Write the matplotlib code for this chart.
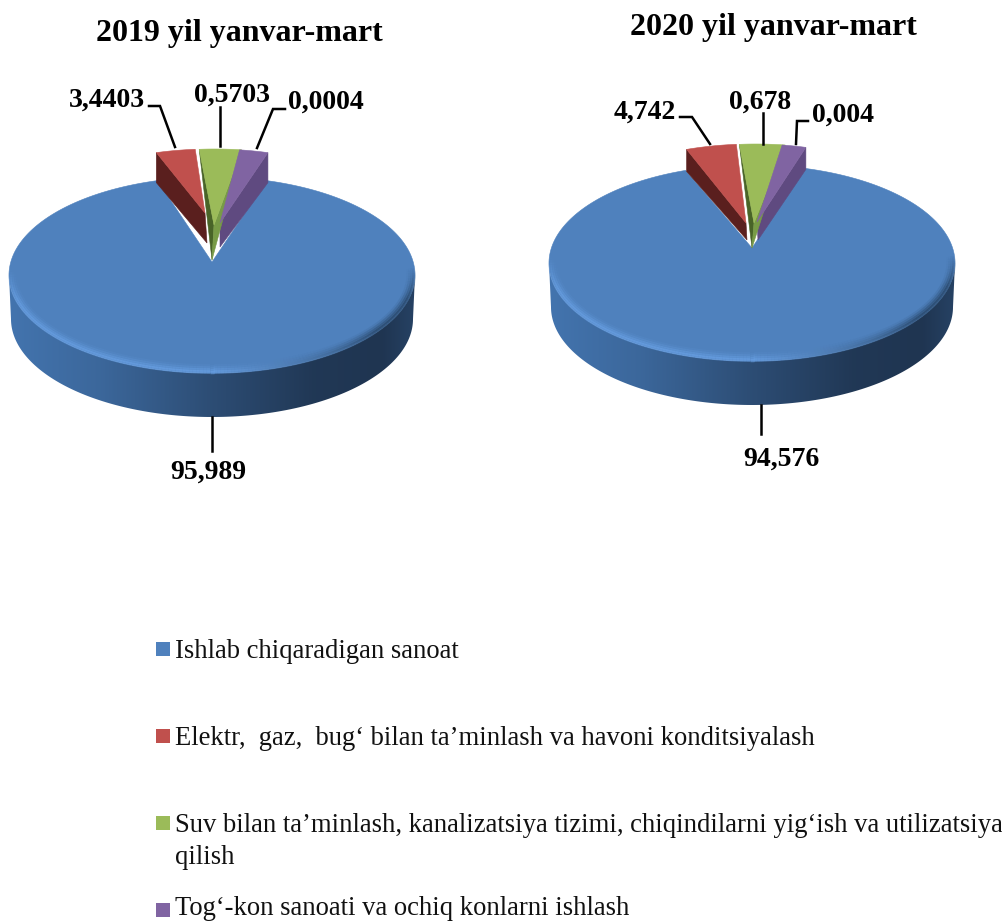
import numpy as np
import matplotlib
matplotlib.use('Agg')
import matplotlib.pyplot as plt
from matplotlib.collections import LineCollection
from matplotlib.colors import to_rgb
from matplotlib.patches import Polygon

# Data
titles = ['2019 yil yanvar-mart', '2020 yil yanvar-mart']
categories = ['Ishlab chiqaradigan sanoat',
              'Elektr,  gaz,  bug‘ bilan ta’minlash va havoni konditsiyalash',
              'Suv bilan ta’minlash, kanalizatsiya tizimi, chiqindilarni yig‘ish va utilizatsiya\nqilish',
              'Tog‘-kon sanoati va ochiq konlarni ishlash']
labels_2019 = ['95,989', '3,4403', '0,5703', '0,0004']
labels_2020 = ['94,576', '4,742', '0,678', '0,004']
# the drawn slices are not in proportion to their labels, so shares are read off the picture
shares_2019 = [91.3, 3.1, 3.33, 2.27]
shares_2020 = [90.5, 4.0, 3.6, 1.9]
colors = ['#4f81bd', '#c0504d', '#9bbb59', '#8064a2']

fig = plt.figure(figsize=(10.03, 9.22), dpi=100)
ax = fig.add_axes([0, 0, 1, 1])
ax.axis('off')

A = 203   # half width of the top face
B = 98    # half height of the top face
SERIF = 'Liberation Serif'


def rim(cx, cy, t, a=A, b=B):
    t = np.radians(t)
    return np.column_stack([cx + a * np.cos(t), cy - b * np.sin(t)])


def add_poly(pts, color, z):
    ax.add_patch(Polygon(pts, closed=True, facecolor=color, edgecolor=color, lw=0.4, zorder=z))


def draw_pie(cx, cy, tip, depth, shares, start, dxs, tops, bottoms, side_depth, explode):
    # slices run clockwise, blue goes the long way round from start
    edges = [start]
    for s in shares:
        edges.append(edges[-1] - 360 * s / 100)
    t = np.linspace(edges[0], edges[1], 400)
    blue_face = np.vstack([rim(cx, cy, t), [[cx, tip]]])

    # outer wall with a left to right gradient
    t_low = np.linspace(180, 360, 200)
    wall = np.vstack([rim(cx, cy, t_low), rim(cx, cy + depth, t_low[::-1], a=A - 2)])
    grad = np.interp(np.linspace(0, 1, 256), [0, 0.22, 0.5, 0.75, 0.92, 1],
                     [0, 0.2, 0.62, 0.95, 1.0, 0.8])
    c0 = np.array(to_rgb('#4374ae'))
    c1 = np.array(to_rgb('#1f3551'))
    img = (c0[None, :] * (1 - grad[:, None]) + c1[None, :] * grad[:, None])[None, :, :]
    im = ax.imshow(img, extent=[cx - A, cx + A, cy + depth + B, cy - 5], aspect='auto', zorder=2)
    im.set_clip_path(Polygon(wall, closed=True, transform=ax.transData))

    add_poly(blue_face, colors[0], 3)

    # soft bevel inside the front of the rim, light on the left and dark on the right
    t_bev = np.linspace(176, 364, 190)
    light = np.array(to_rgb('#6aa2e6'))
    dark = np.array(to_rgb('#24405f'))
    for off, width, alpha in [(1, 2.5, 0.6), (3, 2.5, 0.4), (5, 2.5, 0.22), (7, 2.5, 0.1)]:
        pts = rim(cx, cy, t_bev, a=A - off, b=B - off)
        segs = np.stack([pts[:-1], pts[1:]], axis=1)
        tb = t_bev[:-1]
        mix = np.interp(tb, [176, 270, 305, 325, 364], [1, 1, 0.4, 0, 0])
        fade = np.interp(tb, [176, 195, 345, 364], [0, 1, 1, 0])
        cols = np.zeros((len(segs), 4))
        cols[:, :3] = light * mix[:, None] + dark * (1 - mix[:, None])
        cols[:, 3] = alpha * fade
        ax.add_collection(LineCollection(segs, colors=cols, linewidths=width, zorder=4))

    # three small slices pulled out backwards
    for i in range(3):
        t_i = np.linspace(edges[i + 1], edges[i + 2], 30)
        arc = rim(cx + dxs[i], cy - explode, t_i)
        top = np.array(tops[i])
        bottom = np.array(bottoms[i])
        if i == 0:
            add_poly([arc[0], arc[0] + [0, side_depth], bottom, top], '#5a1f1e', 5)
        if i == 1:
            add_poly([arc[0], top, bottom], '#496428', 6)
            add_poly([arc[-1], top, bottom], '#789b46', 6)
        if i == 2:
            add_poly([arc[-1], arc[-1] + [0, side_depth], bottom, top], '#5f4a80', 5)
        add_poly(np.vstack([arc, [top]]), colors[i + 1], 7)


draw_pie(212, 275, 262, 44, shares_2019, 74.3, [-1, 3, 1],
         [(205, 213), (214, 225), (220, 223)], [(207, 243), (212, 260), (220, 247)], 30, 28)
draw_pie(752, 263, 248, 44, shares_2020, 74.9, [1, 4, 1],
         [(746, 223), (754, 223), (757, 222)], [(747, 240), (752, 248), (758, 240)], 22, 21)

# leader lines
leaders = [[(149, 106), (160, 106), (175, 147)], [(220, 107), (220, 146)],
           [(285, 109), (273, 109), (257, 148)], [(212, 417), (212, 451)],
           [(680, 117), (692, 117), (710, 144)], [(763, 113), (763, 144)],
           [(808, 121), (797, 121), (796, 144)], [(761, 405), (761, 434)]]
for line in leaders:
    xs, ys = zip(*line)
    ax.plot(xs, ys, color='black', lw=1.8, solid_joinstyle='miter', zorder=8)

# value labels
pos_2019 = [(208, 472), (107, 100), (232, 95), (326, 102)]
pos_2020 = [(781, 459), (645, 112), (760, 102), (843, 115)]
for labels, pos in [(labels_2019, pos_2019), (labels_2020, pos_2020)]:
    for lab, (x, y) in zip(labels, pos):
        ax.text(x, y, lab, family=SERIF, fontweight='bold', fontsize=20,
                ha='center', va='center', color='black')

ax.text(239, 34, titles[0], family=SERIF, fontweight='bold', fontsize=23, ha='center', va='center')
ax.text(773, 28, titles[1], family=SERIF, fontweight='bold', fontsize=23, ha='center', va='center')

# legend, the last text sits a little higher so its descenders stay on the page
legend_y = [649, 736, 823, 910]
text_top = [639, 726, 813, 896]
for name, col, y, top in zip(categories, colors, legend_y, text_top):
    ax.add_patch(Polygon([(156, y - 7), (170, y - 7), (170, y + 7), (156, y + 7)], closed=True,
                         facecolor=col, edgecolor='none'))
    ax.text(175, top, name, family=SERIF, fontsize=19.2, ha='left', va='top',
            linespacing=1.38, color='#111111')

ax.set_xlim(0, 1003)
ax.set_ylim(922, 0)
fig.savefig('out.png', dpi=100, facecolor='white')
